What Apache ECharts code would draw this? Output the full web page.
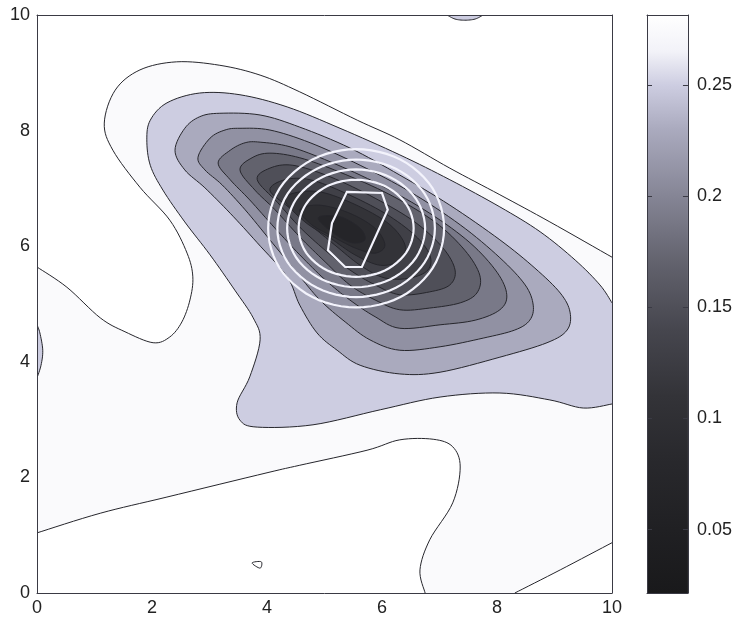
<!DOCTYPE html>
<html><head><meta charset="utf-8">
<script src="https://cdn.jsdelivr.net/npm/echarts@6/dist/echarts.min.js"></script>
<style>html,body{margin:0;padding:0;background:#fff}#c{width:735px;height:622px}</style>
</head><body><div id="c"></div>
<script>
// ---- axes / ticks ----
const xRange = [0, 10];
const yRange = [0, 10];
const axisInterval = 2;
const cbRange = [0.0215, 0.2815];
const cbTicks = [0.05, 0.1, 0.15, 0.2, 0.25];

// ---- colormap (value -> colour) ----
const cmapValues = [0.0215, 0.05, 0.08, 0.11, 0.14, 0.17, 0.20, 0.23, 0.25, 0.265, 0.2815];
const cmapColors = ['#19191b','#202023','#28282c','#333338','#46464e','#62626d','#858595','#aaaabe','#cdcde1','#f2f2f8','#ffffff'];

// ---- contour lines (x, y) ----
const contourA = [[0,5.64],[0.52,5.29],[1.10,4.76],[1.53,4.52],[2.02,4.33],[2.31,4.43],[2.52,4.69],[2.66,5.07],[2.71,5.47],[2.61,5.88],[2.31,6.45],[1.79,7.02],[1.32,7.66],[1.17,8.13],[1.36,8.70],[1.79,9.05],[2.43,9.19],[3.18,9.13],[3.88,8.96],[4.57,8.67],[5.57,8.18],[6.31,7.84],[7.18,7.35],[8.05,6.89],[8.92,6.42],[10,5.81]];
const contourD = [[0,1.04],[1.10,1.38],[2.26,1.66],[4.0,2.08],[4.57,2.21],[5.74,2.47],[6.31,2.65],[6.89,2.66],[7.23,2.53],[7.36,2.18],[7.23,1.56],[6.83,0.92],[6.66,0.40],[6.75,0]];
const contourE = [[8.31,0],[9.10,0.40],[10,0.87]];
const contourB = [[10,5.02],[9.79,5.33],[9.36,5.76],[8.75,6.25],[8.05,6.68],[7.18,7.15],[6.31,7.58],[5.27,8.04],[4.35,8.41],[3.53,8.62],[2.83,8.65],[2.26,8.48],[1.97,8.18],[1.91,7.84],[1.97,7.40],[2.19,6.97],[2.57,6.42],[3.01,5.85],[3.44,5.24],[3.76,4.76],[3.88,4.38],[3.70,3.74],[3.48,3.29],[3.53,2.99],[3.83,2.87],[4.80,2.91],[5.97,3.17],[7.01,3.39],[8.05,3.46],[8.92,3.34],[9.50,3.20],[10,3.27]];
const blobLeft = [[0,4.64],[0.05,4.50],[0.10,4.20],[0.07,3.94],[0,3.72]];
const blobTop = [[7.13,10],[7.27,9.93],[7.44,9.91],[7.62,9.93],[7.76,10]];
const smallLoop = [[3.74,0.52],[3.90,0.54],[3.88,0.43]];
const contour3 = [[2.40,7.66],[2.57,8.04],[2.83,8.24],[3.18,8.30],[3.88,8.27],[4.57,8.06],[5.44,7.70],[6.31,7.23],[7.18,6.71],[8.05,6.11],[8.66,5.62],[9.10,5.19],[9.27,4.86],[9.22,4.55],[8.87,4.33],[8.05,4.08],[7.01,3.82],[6.31,3.79],[5.62,3.94],[5.22,4.20],[4.87,4.50],[4.57,4.98],[4.35,5.47],[3.83,6.06],[3.36,6.57],[2.92,7.01],[2.57,7.32]];
const contour4 = [[2.80,7.54],[3.01,7.87],[3.27,8.01],[3.53,8.04],[4.05,8.01],[4.75,7.79],[5.62,7.40],[6.49,6.94],[7.36,6.37],[8.05,5.80],[8.49,5.33],[8.63,4.98],[8.57,4.72],[8.31,4.55],[7.76,4.41],[7.01,4.26],[6.31,4.20],[5.79,4.38],[5.36,4.69],[4.92,5.07],[4.52,5.54],[4.05,6.11],[3.62,6.63],[3.22,7.06],[2.92,7.32]];
const contour5 = [[3.15,7.44],[3.36,7.66],[3.62,7.79],[3.88,7.80],[4.40,7.72],[5.10,7.46],[5.97,7.06],[6.83,6.57],[7.53,6.06],[8.0,5.55],[8.17,5.16],[8.05,4.90],[7.62,4.72],[7.01,4.64],[6.31,4.58],[5.88,4.78],[5.44,5.07],[5.01,5.42],[4.57,5.85],[4.14,6.31],[3.70,6.80],[3.36,7.15]];
const contour6 = [[3.53,7.32],[3.74,7.53],[4.05,7.61],[4.57,7.53],[5.27,7.28],[6.14,6.89],[6.92,6.42],[7.44,5.93],[7.70,5.50],[7.65,5.19],[7.36,5.02],[6.83,4.93],[6.31,4.90],[5.88,5.07],[5.44,5.33],[5.01,5.73],[4.57,6.16],[4.14,6.63],[3.79,6.97]];
const contour7 = [[3.83,7.15],[4.05,7.35],[4.45,7.40],[5.10,7.20],[5.88,6.83],[6.57,6.42],[7.06,5.97],[7.27,5.59],[7.18,5.33],[6.83,5.21],[6.31,5.16],[5.88,5.33],[5.44,5.59],[5.01,5.93],[4.57,6.33],[4.19,6.75]];
const contour8 = [[4.05,6.97],[4.31,7.15],[4.75,7.15],[5.36,6.92],[6.05,6.57],[6.57,6.19],[6.83,5.85],[6.80,5.59],[6.49,5.45],[6.05,5.45],[5.62,5.67],[5.18,6.02],[4.75,6.37],[4.37,6.68]];
const contour9 = [[4.31,6.80],[4.57,6.94],[5.01,6.92],[5.62,6.68],[6.14,6.37],[6.40,6.02],[6.31,5.76],[5.97,5.67],[5.53,5.85],[5.10,6.14],[4.66,6.42]];
const contour10 = [[4.57,6.63],[4.92,6.71],[5.44,6.57],[5.88,6.31],[6.05,6.02],[5.88,5.88],[5.53,5.97],[5.10,6.19],[4.78,6.37]];
const contour11 = [[4.89,6.49],[5.27,6.51],[5.62,6.31],[5.70,6.11],[5.48,6.06],[5.18,6.21]];

// band value filled inside/below each contour
const bandValues = {A:0.275, D:0.29, E:0.29, B:0.25, blob:0.25, c3:0.23, c4:0.21, c5:0.19, c6:0.17, c7:0.15, c8:0.13, c9:0.11, c10:0.09, c11:0.07};

// ---- white contour rings ----
const ring1 = [[7.08,6.31],[6.88,7.00],[6.32,7.50],[5.55,7.68],[4.79,7.50],[4.22,7.00],[4.02,6.31],[4.22,5.62],[4.79,5.12],[5.55,4.94],[6.32,5.12],[6.88,5.62]];
const ring2 = [[6.92,6.31],[6.74,6.91],[6.24,7.34],[5.55,7.50],[4.87,7.34],[4.36,6.91],[4.18,6.31],[4.36,5.72],[4.87,5.28],[5.55,5.12],[6.24,5.28],[6.74,5.72]];
const ring3 = [[6.75,6.31],[6.59,6.82],[6.15,7.19],[5.55,7.33],[4.95,7.19],[4.51,6.82],[4.35,6.31],[4.51,5.80],[4.95,5.43],[5.55,5.29],[6.15,5.43],[6.59,5.80]];
const ring4 = [[6.55,6.31],[6.42,6.73],[6.05,7.04],[5.55,7.15],[5.05,7.04],[4.68,6.73],[4.55,6.31],[4.68,5.89],[5.05,5.58],[5.55,5.47],[6.05,5.58],[6.42,5.89]];
const ring5 = [[5.39,6.94],[6.0,6.92],[6.1,6.63],[5.65,5.64],[5.36,5.64],[5.06,5.93],[5.13,6.40]];

// ---------------- helpers ----------------
function hex2rgb(h){return [parseInt(h.slice(1,3),16),parseInt(h.slice(3,5),16),parseInt(h.slice(5,7),16)];}
function cmap(v){
  if(v<=cmapValues[0]) return cmapColors[0];
  if(v>=cmapValues[cmapValues.length-1]) return cmapColors[cmapColors.length-1];
  for(let i=0;i<cmapValues.length-1;i++){
    if(v>=cmapValues[i]&&v<=cmapValues[i+1]){
      const t=(v-cmapValues[i])/(cmapValues[i+1]-cmapValues[i]);
      const a=hex2rgb(cmapColors[i]),b=hex2rgb(cmapColors[i+1]);
      const c=a.map((x,k)=>Math.round(x+(b[k]-x)*t));
      return 'rgb('+c.join(',')+')';
    }
  }
}
// Catmull-Rom rendering of a pixel path (drawing only)
function spline(pts, closed, steps){
  steps = steps||8;
  const n=pts.length, out=[];
  if(n<3) return pts.slice();
  const get=i=> closed ? pts[(i+n)%n] : pts[Math.max(0,Math.min(n-1,i))];
  const segs = closed ? n : n-1;
  for(let i=0;i<segs;i++){
    const p0=get(i-1),p1=get(i),p2=get(i+1),p3=get(i+2);
    for(let s=0;s<steps;s++){
      const t=s/steps,t2=t*t,t3=t2*t;
      const f=k=>0.5*((2*p1[k])+(-p0[k]+p2[k])*t+(2*p0[k]-5*p1[k]+4*p2[k]-p3[k])*t2+(-p0[k]+3*p1[k]-3*p2[k]+p3[k])*t3);
      out.push([f(0),f(1)]);
    }
  }
  if(!closed) out.push(pts[n-1]);
  return out;
}
const X0=xRange[0],X1=xRange[1],Y0=yRange[0],Y1=yRange[1];
const layers = [
  {line: contourA, extra:[[X1,Y0],[X0,Y0]], v: bandValues.A},
  {line: contourD, extra:[[X0,Y0]], v: bandValues.D},
  {line: contourE, extra:[[X1,Y0]], v: bandValues.E},
  {line: contourB, extra:[], v: bandValues.B},
  {line: blobLeft, extra:[], v: bandValues.blob},
  {line: blobTop, extra:[], v: bandValues.blob},
  {line: smallLoop, closed:true, nofill:true},
  {line: contour3, closed:true, v: bandValues.c3},
  {line: contour4, closed:true, v: bandValues.c4},
  {line: contour5, closed:true, v: bandValues.c5},
  {line: contour6, closed:true, v: bandValues.c6},
  {line: contour7, closed:true, v: bandValues.c7},
  {line: contour8, closed:true, v: bandValues.c8},
  {line: contour9, closed:true, v: bandValues.c9},
  {line: contour10, closed:true, v: bandValues.c10},
  {line: contour11, closed:true, v: bandValues.c11}
];
const LINE = '#26262c';
const FONT = 'Liberation Sans';
const rings=[ring1,ring2,ring3,ring4,ring5];

const chart = echarts.init(document.getElementById('c'), null, {renderer:'canvas'});
const axisCommon = {
  type:'value', splitLine:{show:false}, axisTick:{show:false},
  axisLine:{show:true, onZero:false, lineStyle:{color:'#3a3a44', width:1}}, z:10
};
const option = {
  animation:false,
  backgroundColor:'#ffffff',
  grid:[
    {left:37, top:15, width:575, height:578, show:false},
    {left:647, top:15, width:41, height:578, show:false}
  ],
  xAxis:[
    Object.assign({}, axisCommon, {gridIndex:0, min:X0, max:X1, interval:axisInterval, position:'bottom',
      axisLabel:{fontFamily:FONT, fontSize:18, color:'#222', margin:6}}),
    Object.assign({}, axisCommon, {gridIndex:0, min:X0, max:X1, position:'top', axisLabel:{show:false}}),
    {type:'value', gridIndex:1, min:0, max:1, show:false},
    Object.assign({}, axisCommon, {gridIndex:1, min:0, max:1, position:'top', axisLabel:{show:false}}),
    Object.assign({}, axisCommon, {gridIndex:1, min:0, max:1, position:'bottom', axisLabel:{show:false}})
  ],
  yAxis:[
    Object.assign({}, axisCommon, {gridIndex:0, min:Y0, max:Y1, interval:axisInterval, position:'left',
      axisLabel:{fontFamily:FONT, fontSize:18, color:'#222', margin:7}}),
    Object.assign({}, axisCommon, {gridIndex:0, min:Y0, max:Y1, position:'right', axisLabel:{show:false}}),
    Object.assign({}, axisCommon, {gridIndex:1, min:cbRange[0], max:cbRange[1], position:'right',
      axisTick:{show:true, inside:true, length:5, customValues:cbTicks, lineStyle:{color:'#3a3a44'}},
      axisLabel:{fontFamily:FONT, fontSize:18, color:'#222', margin:9, customValues:cbTicks}}),
    Object.assign({}, axisCommon, {gridIndex:1, min:cbRange[0], max:cbRange[1], position:'left',
      axisTick:{show:true, inside:true, length:5, customValues:cbTicks, lineStyle:{color:'#3a3a44'}},
      axisLabel:{show:false}})
  ],
  series:[
    {
      type:'custom', xAxisIndex:0, yAxisIndex:0, clip:true, z:2,
      data: layers.map((l,i)=>[i]),
      encode:{x:-1,y:-1},
      renderItem:function(params, api){
        const l = layers[params.dataIndex];
        const px = spline(l.line.map(p=>api.coord(p)), !!l.closed, 8);
        const children=[];
        if(!l.nofill){
          const fillPts = l.closed ? px : px.concat(l.extra.map(p=>api.coord(p)));
          children.push({type:'polygon', shape:{points:fillPts}, style:{fill:cmap(l.v), stroke:null}});
        }
        children.push({type: l.closed?'polygon':'polyline', shape:{points:px},
          style:{fill:null, stroke:LINE, lineWidth:1}});
        return {type:'group', children:children};
      }
    },
    {
      type:'custom', xAxisIndex:0, yAxisIndex:0, clip:true, z:5,
      data: rings.map((r,i)=>[i]),
      encode:{x:-1,y:-1},
      renderItem:function(params, api){
        const r = rings[params.dataIndex];
        let px = r.map(p=>api.coord(p));
        if(params.dataIndex<4) px = spline(px, true, 6);
        return {type:'polygon', shape:{points:px}, style:{fill:null, stroke:'#f3f3fc', lineWidth:2.2}};
      }
    },
    {
      type:'custom', xAxisIndex:2, yAxisIndex:2, z:2,
      data:[[0,cbRange[0]]],
      renderItem:function(params, api){
        const p0=api.coord([0,cbRange[1]]), p1=api.coord([1,cbRange[0]]);
        const span=cbRange[1]-cbRange[0];
        const stops=[];
        for(let i=cmapValues.length-1;i>=0;i--){
          stops.push({offset:Math.min(1,Math.max(0,(cbRange[1]-cmapValues[i])/span)), color:cmapColors[i]});
        }
        return {type:'rect', shape:{x:p0[0], y:p0[1], width:p1[0]-p0[0], height:p1[1]-p0[1]},
          style:{fill:new echarts.graphic.LinearGradient(0,0,0,1,stops)}};
      }
    }
  ]
};
chart.setOption(option);
</script></body></html>
